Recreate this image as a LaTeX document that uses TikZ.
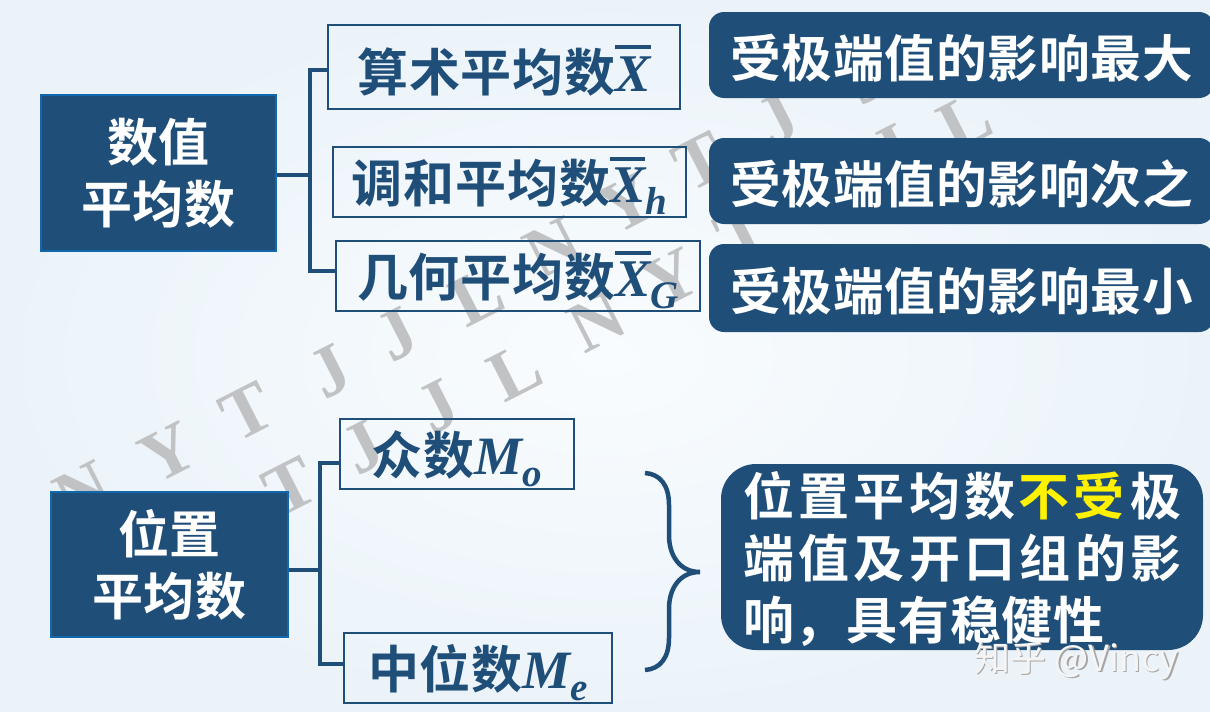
\documentclass[tikz,border=0pt]{standalone}
\usepackage{fontspec}
\usepackage{xcolor}
\usepackage{tikz}
\newfontfamily\cjkbold[LetterSpace=1.5]{Noto Sans CJK SC Bold}
\newfontfamily\cjkwide[LetterSpace=8.6]{Noto Sans CJK SC Bold}
\newfontfamily\cjkthin{Noto Sans CJK SC}
\newfontfamily\mathf{Liberation Serif}
\newfontfamily\markf{Liberation Serif}
\definecolor{navy}{HTML}{1F4E79}
\definecolor{edgeblue}{HTML}{1268AC}
\definecolor{markgray}{HTML}{C1C2C4}
\definecolor{paperin}{HTML}{F9FCFE}
\definecolor{paperout}{HTML}{EBF3F9}
\newcommand{\barX}{\vbox{\hrule height 4pt \kern 7pt \hbox{\mathf\bfseries\itshape\fontsize{53}{53}\selectfont X}}}
\newcommand{\subm}[1]{\raisebox{-12pt}{\mathf\bfseries\itshape\fontsize{39}{39}\selectfont #1}}
\newcommand{\capM}{{\mathf\bfseries\itshape\fontsize{54}{54}\selectfont M}}
\tikzset{
  title/.style={draw=edgeblue,line width=1.5pt,fill=navy,text=white,inner sep=0pt,align=center,font=\cjkbold\fontsize{51}{62}\selectfont,execute at begin node=\rule{0pt}{49pt}},
  term/.style={draw=navy,line width=1.6pt,text=navy,inner sep=0pt,font=\cjkbold\fontsize{51}{60}\selectfont,execute at begin node=\rule{0pt}{53pt}},
  note/.style={fill=navy,text=white,inner sep=0pt,rounded corners=15pt,font=\cjkbold\fontsize{50.7}{60}\selectfont,execute at begin node=\rule{0pt}{49pt}},
  conn/.style={draw=navy,line width=3.6pt,line cap=butt,line join=miter},
  wmark/.style={text=markgray,inner sep=0pt,rotate=27,font=\markf\bfseries\fontsize{72}{72}\selectfont},
  credit/.style={inner sep=0pt,font=\cjkthin\fontsize{36}{36}\selectfont}
}
\begin{document}
\begin{tikzpicture}[x=1pt,y=-1pt]
\useasboundingbox (0,0) rectangle (1210,712);
\shade [inner color=paperin,outer color=paperout] (0,0) rectangle (1210,712);
\foreach \mx/\my/\ml [count=\mi] in {83/492/N,168/453/Y,247/412/T,330/372/J,397/335/J,477/297/L,553/248/N,627/204/Y,700/162/T,778/120/J,866/78/J,
  290/487/T,363/448/J,438/407/J,515/372/L,597/322/N,671/279/Y,742/232/T,892/152/J,965/122/L}
  \node [wmark] (mark\mi) at (\mx,\my) {\ml};
\node [title,minimum width=235pt,minimum height=156pt] (shuzhi) at (158.5,173) {数值\\平均数};
\node [term,minimum width=352pt,minimum height=84pt] (suanshu) at (504,67) {算术平均数\barX};
\node [term,minimum width=353pt,minimum height=70pt] (tiaohe) at (509.5,182) {调和平均数\barX\subm{h}};
\node [term,minimum width=364pt,minimum height=70pt] (jihe) at (518,276) {几何平均数\barX\subm{G}};
\node [note,minimum width=505pt,minimum height=86pt] (zuida) at (961.5,55) {受极端值的影响最大};
\node [note,minimum width=505pt,minimum height=86pt] (cizhi) at (961.5,181) {受极端值的影响次之};
\node [note,minimum width=505pt,minimum height=88pt] (zuixiao) at (961.5,288) {受极端值的影响最小};
\node [title,minimum width=237pt,minimum height=145pt] (weizhi) at (169.5,564.5) {位置\\平均数};
\node [term,minimum width=234pt,minimum height=70pt] (zhongshu) at (457,454) {众数\capM\subm{o}};
\node [term,minimum width=268pt,minimum height=70pt] (zhongwei) at (478,668) {中位数\capM\subm{e}};
\node [note,rounded corners=35pt,minimum width=482pt,minimum height=186pt,align=left,text width=438pt,font=\cjkwide\fontsize{51}{62}\selectfont] (wending) at (962,557) {\mbox{位置平均数\hspace{3pt}\textcolor{yellow}{不\hspace{4.4pt}受}\hspace{6pt}极}\\\mbox{端值及开口组的影}\\{\cjkbold 响，具有稳健性}};
\coordinate (fork1) at (310,175);
\coordinate (fork2) at (320,570);
\draw [conn] (shuzhi.east |- fork1) -- (fork1);
\draw [conn] ([yshift=-3pt]suanshu.west) -| (fork1);
\draw [conn] ([yshift=5pt]jihe.west) -| (fork1);
\draw [conn] (weizhi.east |- fork2) -- (fork2);
\draw [conn] ([yshift=-9pt]zhongshu.west) -| (fork2);
\draw [conn] ([yshift=4pt]zhongwei.west) -| (fork2);
\coordinate (braceup) at (645,473);
\coordinate (bracetip) at (700,572);
\coordinate (bracelow) at (645,670);
\draw [draw=navy,line width=4.5pt] (braceup) .. controls (660,474) and (669,485) .. (669,505) -- (669,535) .. controls (669,556) and (680,572) .. (bracetip) .. controls (680,572) and (669,588) .. (669,609) -- (669,638) .. controls (669,658) and (660,669) .. (bracelow);
\node [credit,text=gray!70] (shade) at (1078,662) {知乎 @Vincy};
\node [credit,text=white!92!gray] (zhihu) at (1076.5,660.5) {知乎 @Vincy};
\end{tikzpicture}
\end{document}
